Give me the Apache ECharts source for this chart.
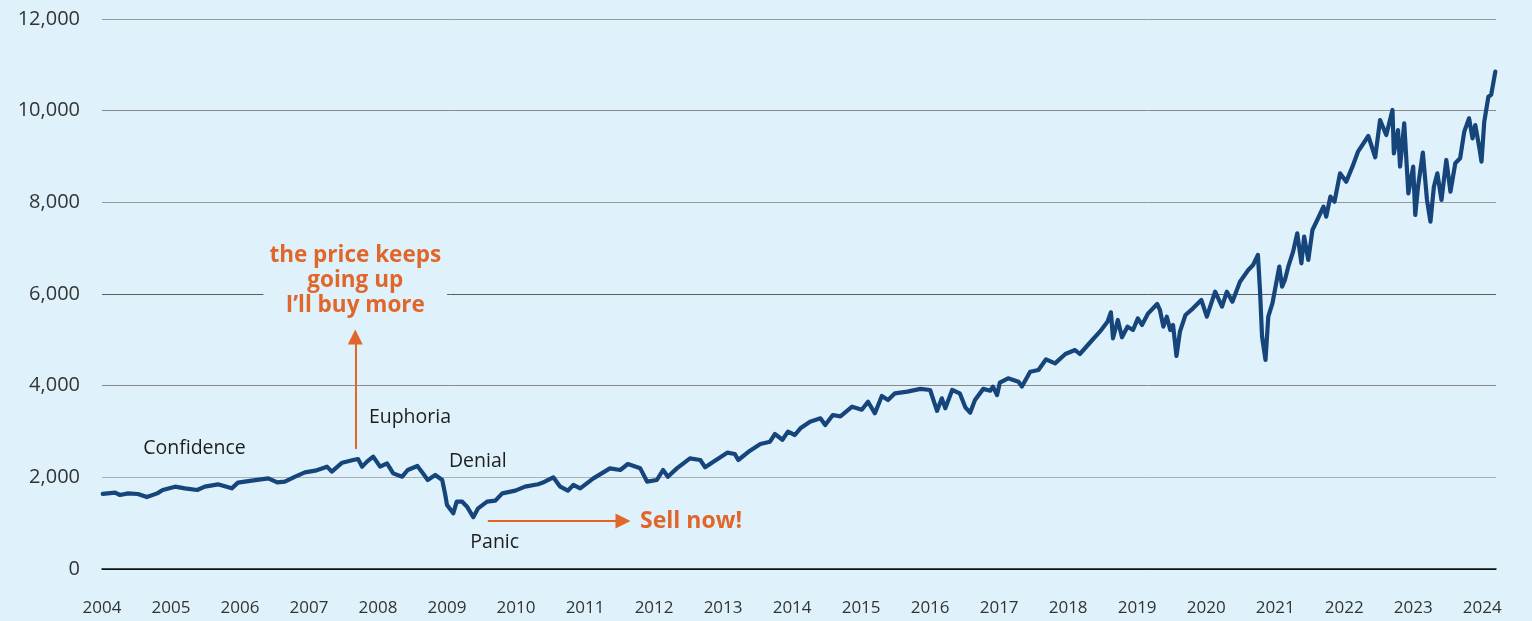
<!DOCTYPE html>
<html>
<head>
    <meta charset="utf-8"/>
    <title>ECharts</title>
    <script src="https://cdn.jsdelivr.net/npm/echarts@6/dist/echarts.min.js"></script>
    <style>
        html, body { margin: 0; padding: 0; background: #dff2fb; }
    </style>
</head>
<body>
<div id="main" style="width: 1532px; height: 621px"></div>
<script type="text/javascript">
    // fractional year / index level
    var dates = [
        2004.01, 2004.19, 2004.26, 2004.38, 2004.52, 2004.65, 2004.80, 2004.88,
        2005.06, 2005.20, 2005.38, 2005.49, 2005.68, 2005.88, 2005.97,
        2006.17, 2006.41, 2006.54, 2006.65, 2006.80, 2006.94,
        2007.09, 2007.26, 2007.33, 2007.48, 2007.64, 2007.71, 2007.77, 2007.84, 2007.93,
        2008.03, 2008.13, 2008.22, 2008.35, 2008.43, 2008.57, 2008.65, 2008.72, 2008.83, 2008.93, 2008.97,
        2009.00, 2009.09, 2009.14, 2009.22, 2009.29, 2009.38, 2009.45, 2009.58, 2009.70, 2009.80, 2009.99,
        2010.13, 2010.32, 2010.38, 2010.54, 2010.64, 2010.75, 2010.83, 2010.93,
        2011.12, 2011.36, 2011.51, 2011.62, 2011.80, 2011.90,
        2012.04, 2012.13, 2012.20, 2012.33, 2012.52, 2012.67, 2012.74, 2012.86,
        2013.06, 2013.17, 2013.22, 2013.39, 2013.54, 2013.68, 2013.75, 2013.86, 2013.94,
        2014.04, 2014.12, 2014.26, 2014.41, 2014.48, 2014.59, 2014.70, 2014.87,
        2015.01, 2015.10, 2015.20, 2015.30, 2015.39, 2015.49, 2015.67, 2015.86,
        2016.00, 2016.10, 2016.17, 2016.22, 2016.32, 2016.43, 2016.51, 2016.58, 2016.65, 2016.77, 2016.87, 2016.91, 2016.97,
        2017.01, 2017.13, 2017.28, 2017.33, 2017.45, 2017.57, 2017.68, 2017.81, 2017.96,
        2018.10, 2018.17, 2018.35, 2018.46, 2018.57, 2018.62, 2018.65, 2018.72, 2018.78, 2018.86, 2018.94,
        2019.01, 2019.07, 2019.16, 2019.29, 2019.33, 2019.38, 2019.43, 2019.48, 2019.52, 2019.57, 2019.62, 2019.70, 2019.81, 2019.93,
        2020.01, 2020.13, 2020.23, 2020.30, 2020.38, 2020.49, 2020.61, 2020.68, 2020.75, 2020.78, 2020.81, 2020.86, 2020.90, 2020.96,
        2021.06, 2021.10, 2021.14, 2021.19, 2021.26, 2021.32, 2021.38, 2021.42, 2021.48, 2021.54, 2021.61, 2021.70, 2021.74, 2021.80, 2021.86, 2021.94,
        2022.03, 2022.12, 2022.20, 2022.35, 2022.45, 2022.52, 2022.61, 2022.70, 2022.72, 2022.78, 2022.81, 2022.87, 2022.93,
        2023.00, 2023.03, 2023.07, 2023.14, 2023.20, 2023.25, 2023.30, 2023.35, 2023.41, 2023.48, 2023.54, 2023.61, 2023.68, 2023.74, 2023.81, 2023.86, 2023.90, 2023.96, 2023.99,
        2024.03, 2024.09, 2024.13, 2024.16, 2024.19
    ];
    var values = [
        1640, 1665, 1615, 1650, 1636, 1570, 1650, 1724,
        1796, 1760, 1724, 1796, 1847, 1760, 1884,
        1927, 1978, 1890, 1905, 2014, 2109,
        2145, 2233, 2124, 2320, 2378, 2400, 2233, 2342, 2451,
        2233, 2305, 2087, 2014, 2160, 2247, 2087, 1942, 2051, 1942, 1651,
        1396, 1215, 1469, 1469, 1360, 1128, 1324, 1469, 1491, 1651, 1709,
        1796, 1850, 1880, 2000, 1796, 1709, 1833, 1760,
        1978, 2196, 2160, 2291, 2196, 1905,
        1942, 2160, 2014, 2196, 2415, 2378, 2218, 2342,
        2538, 2509, 2378, 2582, 2727, 2778, 2945, 2820, 2996,
        2924, 3069, 3214, 3287, 3142, 3360, 3330, 3541,
        3476, 3650, 3397, 3775, 3687, 3833, 3869, 3930,
        3905, 3450, 3724, 3505, 3905, 3833, 3527, 3410, 3687, 3930, 3890, 3978, 3796,
        4065, 4160, 4087, 3980, 4305, 4342, 4575, 4487, 4691,
        4778, 4691, 4996, 5178, 5396, 5600, 5033, 5433, 5055, 5287, 5214,
        5469, 5324, 5578, 5782, 5651, 5287, 5505, 5214, 5324, 4647, 5178, 5542, 5687, 5869,
        5505, 6051, 5724, 6051, 5833, 6269, 6524, 6633, 6851, 6087, 5069, 4560, 5505, 5797,
        6596, 6160, 6300, 6596, 6924, 7324, 6669, 7251, 6742, 7397, 7615, 7905, 7687, 8124, 8014, 8633,
        8451, 8778, 9105, 9447, 8982, 9796, 9469, 10015, 9069, 9578, 8778, 9724, 8196,
        8778, 7724, 8341, 9084, 8051, 7578, 8341, 8633, 8051, 8924, 8233, 8851, 8960, 9542, 9833, 9396, 9687, 9178, 8887,
        9760, 10305, 10345, 10596, 10851
    ];
    var yTicks = [0, 2000, 4000, 6000, 8000, 10000, 12000];

    // annotation texts and their anchor points (year, level)
    var phaseNames = ['Confidence', 'Euphoria', 'Denial', 'Panic'];
    var phaseAt = [[2004.59, 2640], [2007.86, 3316], [2009.02, 2356], [2009.33, 589]];
    var buyText = 'the price keeps\ngoing up\nI\u2019ll buy more';
    var buyAt = [2007.67, 6290];
    var sellText = 'Sell now!';
    var sellAt = [2011.79, 1047];
    var upArrow = [[2007.67, 2618], [2007.67, 5062]];
    var rightArrow = [[2009.59, 1047], [2011.55, 1047]];

    var BG = '#dff2fb';
    var NAVY = '#15457a';
    var ORANGE = '#e0662a';
    var FONT = 'Open Sans';

    var myChart = echarts.init(document.getElementById('main'));

    var lineData = dates.map(function (d, i) {
        return [d, values[i]];
    });

    var notePoints = phaseNames.map(function (name, i) {
        return {
            coord: phaseAt[i],
            label: {
                show: true, position: 'right', distance: 0,
                formatter: name, color: '#1e1e1e', fontSize: 19.5, fontFamily: FONT
            }
        };
    });
    notePoints.push({
        coord: buyAt,
        label: {
            show: true, position: 'inside', formatter: buyText,
            color: ORANGE, fontSize: 22.5, fontWeight: 'bold', fontFamily: FONT,
            lineHeight: 25, align: 'center',
            backgroundColor: BG, padding: [0, 6]
        }
    });
    notePoints.push({
        coord: sellAt,
        label: {
            show: true, position: 'right', distance: 0, formatter: sellText,
            color: ORANGE, fontSize: 23, fontWeight: 'bold', fontFamily: FONT
        }
    });

    var option = {
        backgroundColor: BG,
        animation: false,
        grid: {left: 102, right: 36, top: 19, bottom: 52},
        xAxis: {
            type: 'value',
            min: 2004,
            max: 2024.2,
            interval: 1,
            axisLine: {show: true, lineStyle: {color: '#111', width: 1.5}},
            axisTick: {show: false},
            splitLine: {show: false},
            axisLabel: {
                margin: 31,
                color: '#333',
                fontSize: 17,
                fontFamily: FONT,
                showMaxLabel: false,
                formatter: function (v) {
                    return Math.abs(v - Math.round(v)) < 1e-6 ? String(Math.round(v)) : '';
                }
            }
        },
        yAxis: {
            type: 'value',
            min: yTicks[0],
            max: yTicks[yTicks.length - 1],
            interval: 2000,
            axisLine: {show: false},
            axisTick: {show: false},
            axisLabel: {
                margin: 22,
                color: '#333',
                fontSize: 20,
                fontFamily: FONT,
                formatter: function (v) {
                    return v.toLocaleString('en-US');
                }
            },
            splitLine: {
                lineStyle: {
                    color: ['#111', '#a9b0b6', '#8a8a8a', '#5c5c5c', '#999999', '#8a8a8a', '#999999'],
                    width: 1
                }
            }
        },
        series: [{
            type: 'line',
            data: lineData,
            symbol: 'none',
            silent: true,
            lineStyle: {color: NAVY, width: 4.2, join: 'round', cap: 'round'},
            markLine: {
                silent: true,
                symbol: ['none', 'triangle'],
                symbolSize: [15, 15],
                label: {show: false},
                lineStyle: {color: ORANGE, width: 2, type: 'solid'},
                data: [
                    [{coord: upArrow[0]}, {coord: upArrow[1]}],
                    [{coord: rightArrow[0]}, {coord: rightArrow[1]}]
                ]
            },
            markPoint: {
                silent: true,
                symbol: 'circle',
                symbolSize: 1,
                itemStyle: {color: 'rgba(0,0,0,0)'},
                data: notePoints
            }
        }]
    };

    myChart.setOption(option);
</script>
</body>
</html>
